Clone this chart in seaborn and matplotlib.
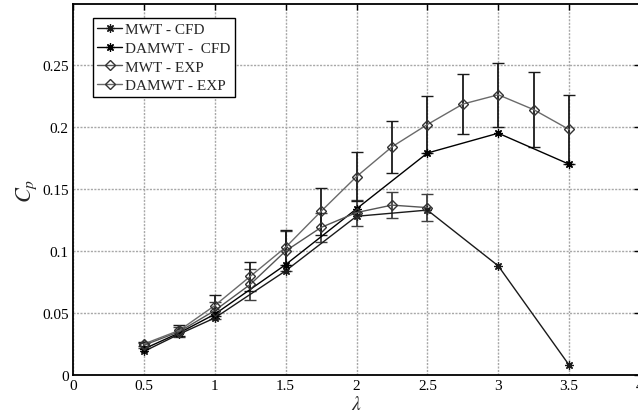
import numpy as np
import pandas as pd
import matplotlib
matplotlib.use("Agg")
import matplotlib.pyplot as plt
import seaborn as sns

# ---- data ----
lam_cfd = [0.5, 0.75, 1.0, 1.5, 2.0, 2.5, 3.0, 3.5]
mwt_cfd = [0.019, 0.033, 0.046, 0.084, 0.128, 0.133, 0.088, 0.008]
damwt_cfd = [0.021, 0.034, 0.049, 0.089, 0.134, 0.179, 0.195, 0.170]

lam_mwt_exp = [0.5, 0.75, 1.0, 1.25, 1.5, 1.75, 2.0, 2.25, 2.5]
mwt_exp = [0.024, 0.035, 0.052, 0.073, 0.100, 0.119, 0.131, 0.137, 0.135]
mwt_exp_err = [0.002, 0.004, 0.007, 0.0125, 0.016, 0.012, 0.0105, 0.0105, 0.011]

lam_damwt_exp = [0.5, 0.75, 1.0, 1.25, 1.5, 1.75, 2.0, 2.25, 2.5, 2.75, 3.0, 3.25, 3.5]
damwt_exp = [0.025, 0.036, 0.056, 0.0795, 0.103, 0.132, 0.160, 0.184, 0.202,
             0.2185, 0.226, 0.214, 0.198]
damwt_exp_err = [0.002, 0.0045, 0.0085, 0.012, 0.014, 0.019, 0.020, 0.021, 0.023,
                 0.024, 0.026, 0.030, 0.028]

labels = ["MWT - CFD", "DAMWT -  CFD", "MWT - EXP", "DAMWT - EXP"]
xticks = [0, 0.5, 1, 1.5, 2, 2.5, 3, 3.5, 4]
yticks = [0, 0.05, 0.1, 0.15, 0.2, 0.25]
ytick_labels = ["0", "0.05", "0.1", "0.15", "0.2", "0.25"]

# ---- style ----
sns.set_style("white")
plt.rcParams["font.family"] = ["Liberation Serif", "DejaVu Serif"]
plt.rcParams["mathtext.fontset"] = "stix"

fig = plt.figure(figsize=(6.38, 4.14), dpi=100)
ax = fig.add_axes([73 / 638, 1 - 376 / 414, (640 - 73) / 638, (376 - 5) / 414])

asterisk = (8, 2, 0)

# error bars first (beneath lines)
ax.errorbar(lam_mwt_exp, mwt_exp, yerr=mwt_exp_err, fmt="none", ecolor="#404040",
            elinewidth=1.3, capsize=4, capthick=1.0, zorder=2)
ax.errorbar(lam_damwt_exp, damwt_exp, yerr=damwt_exp_err, fmt="none", ecolor="#1a1a1a",
            elinewidth=1.3, capsize=4, capthick=1.0, zorder=2)

sns.lineplot(x=lam_cfd, y=mwt_cfd, ax=ax, color="#1a1a1a", lw=1.0, marker=asterisk,
             markersize=6, markeredgewidth=0.9, markeredgecolor="#1a1a1a",
             label=labels[0], zorder=3)
sns.lineplot(x=lam_cfd, y=damwt_cfd, ax=ax, color="#000000", lw=1.0, marker=asterisk,
             markersize=6, markeredgewidth=0.9, markeredgecolor="#000000",
             label=labels[1], zorder=3)
sns.lineplot(x=lam_mwt_exp, y=mwt_exp, ax=ax, color="#555555", lw=1.0, marker="D",
             markersize=5, markerfacecolor="none", markeredgecolor="#333333",
             markeredgewidth=1.0, label=labels[2], zorder=3)
sns.lineplot(x=lam_damwt_exp, y=damwt_exp, ax=ax, color="#6a6a6a", lw=1.0, marker="D",
             markersize=5, markerfacecolor="none", markeredgecolor="#333333",
             markeredgewidth=1.0, label=labels[3], zorder=3)

ax.set_xlim(0, 4)
ax.set_ylim(0, 0.2992)
ax.set_xticks(xticks)
ax.set_xticklabels([("%g" % t) for t in xticks])
ax.set_yticks(yticks)
ax.set_yticklabels(ytick_labels)

ax.grid(True, color="#a8a8a8", linestyle=(0, (1.5, 1)), linewidth=1.0)
ax.set_axisbelow(True)
ax.tick_params(direction="in", length=4, width=1.0, top=True, right=True,
               labelsize=11, colors="black", pad=3)
for s in ax.spines.values():
    s.set_visible(True)
    s.set_color("black")
    s.set_linewidth(1.3)

ax.set_xlabel(r"$\lambda$", fontsize=14, labelpad=2)
ax.set_ylabel(r"$C_p$", fontsize=16, labelpad=2)

leg = ax.legend(loc="upper left", bbox_to_anchor=(0.035, 0.962), fontsize=11,
                frameon=True, fancybox=False, framealpha=1, edgecolor="black",
                handlelength=1.6, handletextpad=0.2, labelspacing=0.32,
                borderpad=0.3, borderaxespad=0)
leg.get_frame().set_linewidth(1.0)

fig.savefig("out.png", dpi=100)
